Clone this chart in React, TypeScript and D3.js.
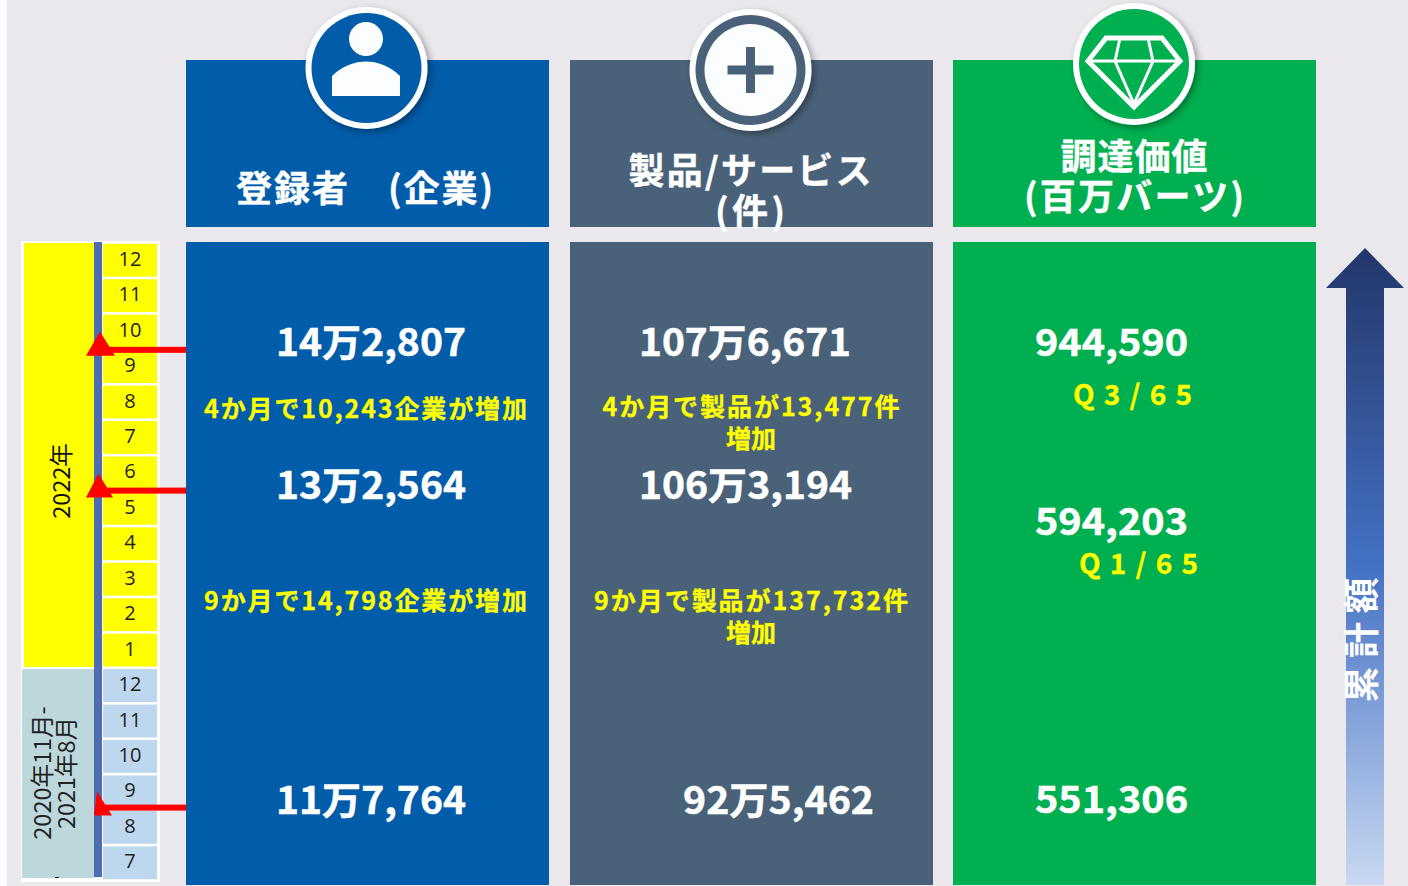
import React from "react";
import * as d3 from "d3";

const monthLabels2022 = ["12","11","10","9","8","7","6","5","4","3","2","1"];
const monthLabels2021 = ["12","11","10","9","8","7"];
const snapshotRows = [2, 6, 15];
const registrants = ["14万2,807","13万2,564","11万7,764"];
const products = ["107万6,671","106万3,194","92万5,462"];
const procurement = ["944,590","594,203","551,306"];
const regNotes = ["4か月で10,243企業が増加","9か月で14,798企業が増加"];
const prodNotes = [["4か月で製品が13,477件","増加"],["9か月で製品が137,732件","増加"]];
const quarterNotes = ["Q 3 / 6 5","Q 1 / 6 5"];

const W = 1408, H = 886;
const FONT = "'Noto Sans CJK JP','Noto Sans',sans-serif";
const BLUE = "#015CA9", SLATE = "#4A6279", GREEN = "#00B050", BG = "#EAE8EC";

const rows = [...monthLabels2022, ...monthLabels2021];
const y = d3.scaleBand<number>().domain(d3.range(rows.length)).range([242.5, 880.5]);
const columns = d3.scaleOrdinal<string, number>().domain(["reg","prod","val"]).range([186, 570, 953]);
const COLW = 363;

function T(p: any) {
  const { children, size, fill = "#fff", anchor = "middle", weight = 700, ...r } = p;
  return <text fontFamily={FONT} fontSize={size} fontWeight={weight} fill={fill} textAnchor={anchor} dominantBaseline="central" {...r}>{children}</text>;
}

function V(p: any) {
  return <T size={38} stroke="#fff" strokeWidth={0.5} anchor="start" lengthAdjust="spacingAndGlyphs" {...p} />;
}

function N(p: any) {
  return <T size={25} fill="#FFFF00" stroke="#FFFF00" strokeWidth={0.3} {...p} />;
}

function Badge({ cx, cy, fill, children }: any) {
  return <g>
    <circle cx={cx} cy={cy} r={61} fill="#fff" filter="url(#sh)" />
    <circle cx={cx} cy={cy} r={55} fill={fill} />
    {children}
  </g>;
}

function Arrow({ row, dy, ax, bl, br, top, baseOff }: any) {
  const ly = y(row)! + y.bandwidth() + dy;
  return <g fill="#FF0000">
    <rect x={ax} y={ly - 3} width={186 - ax} height={6} />
    <path d={d3.line()([[ax, ly - top], [br, ly + baseOff], [bl, ly + baseOff]]) + "Z"} />
  </g>;
}

export default function App() {
  const gap = 2.6;
  return (
    <svg width={W} height={H} viewBox={`0 0 ${W} ${H}`} style={{ position: "absolute", left: 0, top: 0, display: "block", background: "#fff" }}>
      <defs>
        <filter id="sh" x="-20%" y="-20%" width="150%" height="150%">
          <feDropShadow dx="3" dy="3" stdDeviation="3.5" floodColor="#000" floodOpacity="0.35" />
        </filter>
        <linearGradient id="up" x1="0" y1="0" x2="0" y2="1">
          <stop offset="0" stopColor="#23366A" />
          <stop offset="0.5" stopColor="#4472C4" />
          <stop offset="1" stopColor="#C9D8F2" />
        </linearGradient>
      </defs>
      <rect x={7} y={0} width={W - 7} height={H} fill={BG} />

      {/* timeline */}
      <rect x={21} y={241} width={139} height={641} fill="#fff" />
      <rect x={24} y={243} width={70} height={424} fill="#FFFF00" />
      <rect x={22} y={669} width={72} height={209} fill="#BDD8DC" />
      {rows.map((m, i) => (
        <g key={i}>
          <rect x={103} y={y(i)! + gap / 2} width={54} height={y.bandwidth() - gap} fill={i < 12 ? "#FFFF00" : "#BDD7EE"} />
          <text x={130} y={y(i)! + y.bandwidth() / 2 - 2} fontFamily="'Open Sans','Noto Sans',sans-serif" fontSize={20} fill="#222" textAnchor="middle" dominantBaseline="central">{m}</text>
        </g>
      ))}
      <rect x={94} y={242} width={8} height={635} fill="#4F6CB0" />
      <T size={23.5} weight={400} fill="#111" transform="translate(60,481) rotate(-90)">2022年</T>
      <T size={23.5} weight={400} fill="#222" transform="translate(41,773) rotate(-90)">2020年11月-</T>
      <T size={23.5} weight={400} fill="#222" transform="translate(65,773) rotate(-90)">2021年8月</T>
      <rect x={55} y={877} width={4} height={1} fill="#111" />

      {/* panels */}
      {columns.domain().map((k, i) => {
        const f = [BLUE, SLATE, GREEN][i];
        return <g key={k}>
          <rect x={columns(k)} y={60} width={COLW} height={167} fill={f} />
          <rect x={columns(k)} y={242} width={COLW} height={643} fill={f} />
        </g>;
      })}

      <Arrow row={snapshotRows[0]} dy={1} ax={100} bl={86} br={115} top={18} baseOff={6} />
      <Arrow row={snapshotRows[1]} dy={0} ax={98.5} bl={86} br={113} top={17} baseOff={7} />
      <Arrow row={snapshotRows[2]} dy={-2} ax={97} bl={94} br={112} top={16} baseOff={8} />

      {/* badges */}
      <Badge cx={366.5} cy={68} fill={BLUE}>
        <circle cx={366} cy={39} r={17} fill="#FBFDFF" />
        <path d="M332 96V76C342 66 355 61.500 366 61.500C377 61.500 390 66 400 76V96Z" fill="#FBFDFF" />
      </Badge>
      <Badge cx={750.5} cy={70} fill={SLATE}>
        <circle cx={750.5} cy={70} r={46} fill="#FBFDFF" />
        <path d="M746 47H755V65.500H773.500V74.500H755V93H746V74.500H727.500V65.500H746Z" fill={SLATE} />
      </Badge>
      <Badge cx={1134} cy={64} fill={GREEN}>
        <g fill="none" stroke="#fff" strokeWidth={5} strokeLinejoin="miter">
          <path d="M1106 38H1162L1180 61L1134 107L1088 61Z" />
          <path strokeWidth={3} d="M1088 61H1180M1120 38L1115 61L1134 104L1153 61L1148 38" />
        </g>
      </Badge>

      {/* headers */}
      <T size={36} x={236} y={186} anchor="start" textLength={257} lengthAdjust="spacing" stroke="#fff" strokeWidth={0.4}>登録者　(企業)</T>
      <T size={36} x={750} y={168} textLength={243} lengthAdjust="spacing" stroke="#fff" strokeWidth={0.4}>製品/サービス</T>
      <T size={36} x={750} y={209} textLength={70} lengthAdjust="spacing" stroke="#fff" strokeWidth={0.4}>(件)</T>
      <T size={36} x={1134} y={153.5} textLength={147} lengthAdjust="spacing" stroke="#fff" strokeWidth={0.4}>調達価値</T>
      <T size={36} x={1134} y={194} textLength={220} lengthAdjust="spacing" stroke="#fff" strokeWidth={0.4}>(百万バーツ)</T>

      {/* values */}
      <V x={276} y={339} textLength={190}>{registrants[0]}</V>
      <V x={276} y={482} textLength={190}>{registrants[1]}</V>
      <V x={276} y={797} textLength={190}>{registrants[2]}</V>
      <V x={639} y={339} textLength={212}>{products[0]}</V>
      <V x={639} y={482} textLength={213}>{products[1]}</V>
      <V x={683} y={797} textLength={191}>{products[2]}</V>
      <V x={1035} y={339} textLength={153}>{procurement[0]}</V>
      <V x={1035} y={518} textLength={153}>{procurement[1]}</V>
      <V x={1035} y={796} textLength={153}>{procurement[2]}</V>

      {/* notes */}
      <N x={204} y={406.500} anchor="start" textLength={323}>{regNotes[0]}</N>
      <N x={204} y={598.500} anchor="start" textLength={323}>{regNotes[1]}</N>
      <N x={751} y={404.500} textLength={297}>{prodNotes[0][0]}</N>
      <N x={751} y={436.500}>{prodNotes[0][1]}</N>
      <N x={751} y={598.500} textLength={314}>{prodNotes[1][0]}</N>
      <N x={751} y={630.500}>{prodNotes[1][1]}</N>
      <N size={28} x={1073} y={393} anchor="start" textLength={119}>{quarterNotes[0]}</N>
      <N size={28} x={1079} y={562} anchor="start" textLength={119}>{quarterNotes[1]}</N>

      {/* cumulative arrow */}
      <path d="M1365 248L1404 288H1384V885H1346V288H1326Z" fill="url(#up)" />
      <T size={36} transform="translate(1359,640) rotate(-90)" textLength={125} lengthAdjust="spacing">累計額</T>
    </svg>
  );
}
